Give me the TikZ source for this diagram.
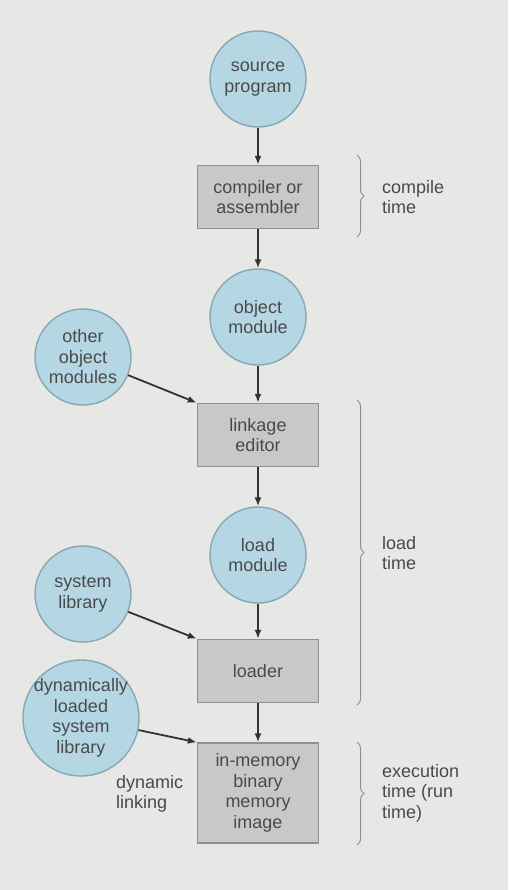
\documentclass[tikz,border=0pt]{standalone}
\usepackage{fontspec}
\setmainfont{Liberation Sans}
\usetikzlibrary{decorations.pathreplacing,arrows.meta}
\definecolor{bgfill}{HTML}{E7E7E5}
\definecolor{diskfill}{HTML}{B5D7E3}
\definecolor{diskline}{HTML}{86A8B4}
\definecolor{stagefill}{HTML}{C8C8C7}
\definecolor{stageline}{HTML}{909090}
\definecolor{labeltext}{HTML}{4A4A4A}
\tikzset{
  disk/.style={shape=circle,draw=diskline,fill=diskfill,line width=1.4pt,
    minimum size=96pt,inner sep=0pt,align=center,text=labeltext,
    font=\fontsize{18}{20.5}\selectfont},
  stage/.style={shape=rectangle,draw=stageline,fill=stagefill,line width=1.4pt,
    minimum width=121pt,minimum height=63pt,inner sep=0pt,align=center,
    text=labeltext,font=\fontsize{18}{20.5}\selectfont},
  period/.style={anchor=west,align=left,inner sep=0pt,text=labeltext,
    font=\fontsize{18}{20.5}\selectfont},
  span/.style={decorate,decoration={brace,amplitude=7pt},draw=stageline,line width=1pt}
}
\begin{document}
\begin{tikzpicture}[x=1pt,y=-1pt,>={Latex[length=9pt,width=7pt]}]
\useasboundingbox[fill=bgfill] (0,0) rectangle (508,890);
\node(0) at (258,79)[disk]                   {source\\program};
\node(1) at (258,197)[stage]                 {compiler or\\assembler};
\node(2) at (258,317)[disk]                  {object\\module};
\node(3) at (83,357)[disk]                   {other\\object\\modules};
\node(4) at (258,435)[stage]                 {linkage\\editor};
\node(5) at (258,555)[disk]                  {load\\module};
\node(6) at (83,594)[disk]                   {system\\library};
\node(7) at (258,671)[stage]                 {loader};
\node(8) at (81,718)[disk,minimum size=116pt,inner sep=-6pt] {dynamically\\loaded\\system\\library};
\node(9) at (258,793)[stage,minimum height=100pt] {in-memory\\binary\\memory\\image};
\node(10) at (116,794)[period]               {dynamic\\linking};

\node(11) at (382,197)[period]               {compile\\time};
\node(12) at (382,553)[period]               {load\\time};
\node(13) at (382,793)[period]               {execution\\time (run\\time)};

\coordinate(a) at (357,155);
\coordinate(b) at (357,237);
\coordinate(c) at (357,400);
\coordinate(d) at (357,705);
\coordinate(e) at (357,742);
\coordinate(f) at (357,845);

\draw[span] (a) -- (b);
\draw[span] (c) -- (d);
\draw[span] (e) -- (f);

\path [->,draw=black!80,line width=1.8pt]
  (0)      edge                 (1)
  (1)      edge                 (2)
  (2)      edge                 (4)
  (3)      edge                 (4.north west)
  (4)      edge                 (5)
  (5)      edge                 (7)
  (6)      edge                 (7.north west)
  (7)      edge                 (9)
  (8)      edge                 (9.north west);

\end{tikzpicture}
\end{document}
